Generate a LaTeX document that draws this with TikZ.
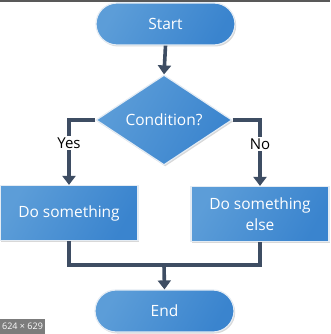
\documentclass[tikz,border=0pt]{standalone}
\usepackage{fontspec}
\setmainfont{Open Sans}
\usetikzlibrary{shapes.geometric,arrows.meta,shadows}
\definecolor{blueL}{HTML}{5C9DD8}
\definecolor{blueD}{HTML}{3A84CE}
\definecolor{conn}{HTML}{3E4D63}
\definecolor{rim}{HTML}{E4ECF4}
\tikzset{
  shape base/.style={draw=rim, line width=1.2pt, left color=blueL, right color=blueD, shading angle=60,
    text=white, font=\fontsize{15.5}{20.5}\selectfont, inner sep=0pt,
    drop shadow={shadow xshift=1.2pt, shadow yshift=-1.5pt, opacity=0.25, fill=black!60}},
  terminal/.style={shape base, rectangle, rounded corners=21pt, minimum width=139pt, minimum height=42pt},
  procbox/.style={shape base, rectangle, minimum width=138pt, minimum height=55pt, align=center},
  decision/.style={shape base, diamond, aspect=1.5, minimum width=136pt, minimum height=90pt},
  connline/.style={draw=conn, line width=3.6pt},
  arrowline/.style={connline, -{Triangle[length=9pt,width=13pt]}},
  lbl/.style={fill=white, text=black, font=\fontsize{15}{17}\selectfont, inner sep=1.5pt}
}
\begin{document}
\begin{tikzpicture}[x=1pt,y=-1pt]
\useasboundingbox (0,0) rectangle (330,334);
\fill[white] (0,0) rectangle (330,334);
\fill[black!65] (0,0) rectangle (330,1.6);
\node[terminal] (start) at (165.5,24) {Start};
\node[decision] (cond) at (164,120) {Condition?};
\node[procbox] (doit) at (69,213) {Do something};
\node[procbox] (else) at (260,214) {Do something\\else};
\node[terminal] (end) at (164.5,311) {End};
\coordinate (merge) at (164,265);
\draw[arrowline] (start.south) -- (cond.north);
\draw[arrowline] (cond.west) -| node[lbl, pos=0.68] (yes) {Yes} (doit.north);
\draw[arrowline] (cond.east) -| node[lbl, pos=0.68] (no) {No} (else.north);
\draw[connline, line join=miter] (doit.south) |- (merge);
\draw[connline, line join=miter] (else.south) |- (merge);
\draw[arrowline] (merge) -- (end.north);
\node[fill=black!60, fill opacity=0.85, text opacity=1, text=white, font=\fontsize{9}{10}\selectfont, anchor=south west, inner xsep=2pt, inner ysep=2pt, minimum width=42pt, minimum height=15pt] (badge) at (0,334) {624 × 629};
\end{tikzpicture}
\end{document}
